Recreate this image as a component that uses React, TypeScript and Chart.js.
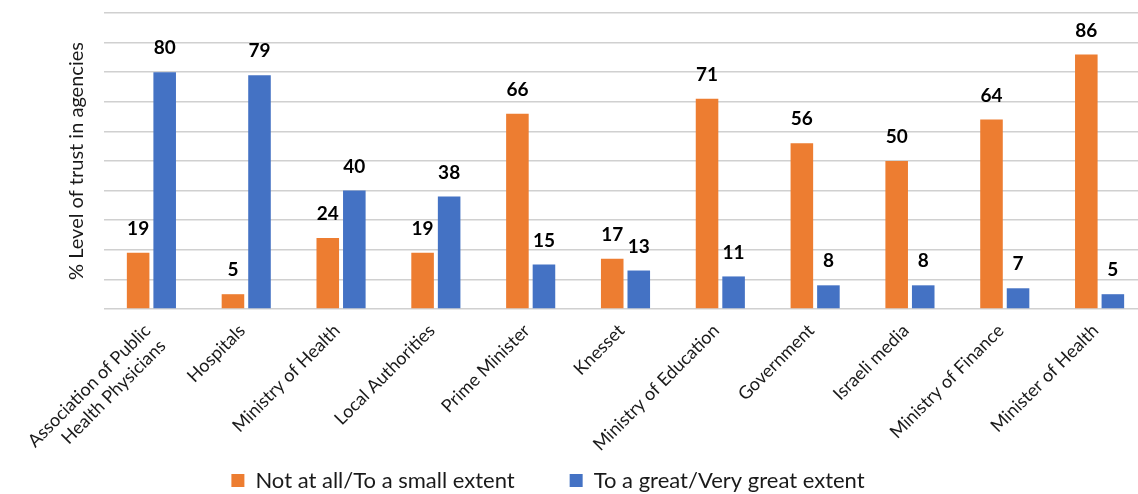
import React, { useEffect, useRef } from "react";
import { Chart, registerables } from "chart.js";

Chart.register(...registerables);

const categories: (string | string[])[] = [
  ["Association of Public", "Health Physicians"],
  "Hospitals",
  "Ministry of Health",
  "Local Authorities",
  "Prime Minister",
  "Knesset",
  "Ministry of Education",
  "Government",
  "Israeli media",
  "Ministry of Finance",
  "Minister of Health",
];

const lowTrust = [19, 5, 24, 19, 66, 17, 71, 56, 50, 64, 86];
const highTrust = [80, 79, 40, 38, 15, 13, 11, 8, 8, 7, 5];

const seriesNames = ["Not at all/To a small extent", "To a great/Very great extent"];
const yTitle = "% Level of trust in agencies";

const FONT = "Lato, 'Open Sans', sans-serif";

const valueLabels = {
  id: "valueLabels",
  afterDatasetsDraw(chart: any) {
    const ctx = chart.ctx;
    ctx.save();
    ctx.font = `bold 19px ${FONT}`;
    ctx.fillStyle = "#000000";
    ctx.textAlign = "center";
    ctx.textBaseline = "middle";
    chart.data.datasets.forEach((ds: any, di: number) => {
      const meta = chart.getDatasetMeta(di);
      meta.data.forEach((bar: any, i: number) => {
        ctx.fillText(String(ds.data[i]), bar.x, bar.y - 24);
      });
    });
    ctx.restore();
  },
};

const layoutTweaks = {
  id: "layoutTweaks",
  afterLayout(chart: any) {
    const lg = chart.legend;
    if (lg) {
      const dx = -58;
      const dy = 7.5;
      lg.left += dx;
      lg.right += dx;
      lg.top += dy;
      lg.bottom += dy;
    }
    const xs = chart.scales.x;
    if (xs) xs.bottom = chart.height;
  },
};

export default function App() {
  const ref = useRef<HTMLCanvasElement | null>(null);

  useEffect(() => {
    const canvas = ref.current;
    if (!canvas) return;
    const chart = new Chart(canvas, {
      type: "bar",
      data: {
        labels: categories,
        datasets: [
          {
            label: seriesNames[0],
            data: lowTrust,
            backgroundColor: "#ED7D31",
            categoryPercentage: 0.56,
            barPercentage: 0.85,
          },
          {
            label: seriesNames[1],
            data: highTrust,
            backgroundColor: "#4472C4",
            categoryPercentage: 0.56,
            barPercentage: 0.85,
          },
        ],
      },
      options: {
        responsive: false,
        animation: false,
        layout: { padding: { left: 65, right: 3, top: 13, bottom: 0 } },
        plugins: {
          legend: {
            position: "bottom",
            labels: {
              boxWidth: 13,
              boxHeight: 13,
              padding: 55,
              color: "#1a1a1a",
              font: { family: FONT, size: 22 },
            },
          },
          tooltip: { enabled: false },
        },
        scales: {
          x: {
            grid: { display: false },
            border: { display: false },
            ticks: {
              autoSkip: false,
              minRotation: 45,
              maxRotation: 45,
              labelOffset: -4,
              padding: 3,
              color: "#1a1a1a",
              font: { family: FONT, size: 18 },
            },
            afterFit(scale: any) {
              scale.height = 98;
            },
          },
          y: {
            min: 0,
            max: 100,
            ticks: { display: false, stepSize: 10 },
            grid: { color: "#d0d0d0", lineWidth: 1.5, drawTicks: false },
            border: { display: false },
            title: {
              display: true,
              text: yTitle,
              color: "#1a1a1a",
              padding: { top: 0, bottom: 0 },
              font: { family: FONT, size: 20 },
            },
            afterFit(scale: any) {
              scale.width = 39;
            },
          },
        },
      },
      plugins: [valueLabels, layoutTweaks],
    });
    return () => chart.destroy();
  }, []);

  return (
    <div style={{ position: "fixed", left: 0, top: 0, width: 1138, height: 494, overflow: "hidden", background: "#fff" }}>
      <canvas ref={ref} width={1150} height={494} style={{ display: "block" }} />
    </div>
  );
}
